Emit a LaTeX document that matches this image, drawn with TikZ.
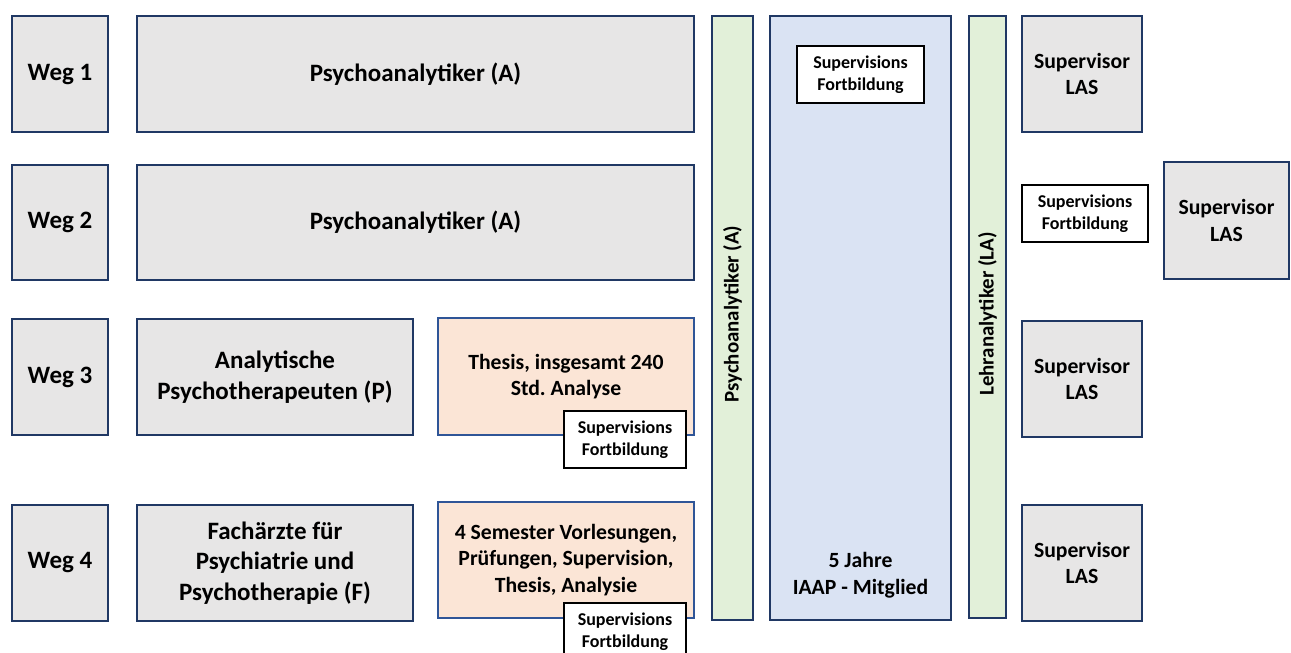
\documentclass[tikz,border=0pt]{standalone}
\usepackage{fontspec}
\setmainfont{Carlito}
\definecolor{greyfill}{HTML}{E7E6E6}
\definecolor{peach}{HTML}{FBE5D6}
\definecolor{greenfill}{HTML}{E2F0D9}
\definecolor{bluefill}{HTML}{DAE3F3}
\definecolor{navy}{HTML}{203864}
\definecolor{midblue}{HTML}{2F5597}
\newcommand\fsLarge{\fontsize{25}{30.5}\selectfont\bfseries}
\newcommand\fsMed{\fontsize{21.7}{26.7}\selectfont\bfseries}
\newcommand\fsVert{\fontsize{20.9}{25}\selectfont\bfseries}
\newcommand\fsSmall{\fontsize{18}{22.5}\selectfont\bfseries}
\tikzset{
  base/.style={anchor=north west, inner sep=0pt, align=center, line width=2pt},
  greybox/.style={base, draw=navy, fill=greyfill, font=\fsLarge},
  lasbox/.style={base, draw=navy, fill=greyfill, font=\fsMed},
  peachbox/.style={base, draw=midblue, fill=peach, font=\fsMed},
  greenbar/.style={base, draw=navy, fill=greenfill},
  bluebar/.style={base, draw=navy, fill=bluefill},
  sfbox/.style={base, draw=black, fill=white, line width=2pt, font=\fsSmall},
  plain/.style={inner sep=0pt, align=center},
}
\begin{document}
\frenchspacing
\begin{tikzpicture}[x=1pt, y=-1pt]
\useasboundingbox (0,0) rectangle (1291,653);
% row 1
\node[greybox, minimum width=96pt, minimum height=116pt] (weg1) at (11,15) {Weg 1};
\node[greybox, minimum width=557pt, minimum height=116pt] (pa1) at (136,15) {Psychoanalytiker (A)};
% row 2
\node[greybox, minimum width=96pt, minimum height=115pt] (weg2) at (11,164) {Weg 2};
\node[greybox, minimum width=557pt, minimum height=115pt] (pa2) at (136,164) {Psychoanalytiker (A)};
% row 3
\node[greybox, minimum width=96pt, minimum height=116pt] (weg3) at (11,318) {Weg 3};
\node[greybox, minimum width=276pt, minimum height=116pt] (ap) at (136,318) {Analytische\\Psychotherapeuten (P)};
\node[peachbox, minimum width=256pt, minimum height=117pt] (thesis) at (437,317) {Thesis, insgesamt 240\\Std. Analyse};
\node[sfbox, minimum width=122pt, minimum height=57pt] (sf3) at (563,410) {Supervisions\\Fortbildung};
% row 4
\node[greybox, minimum width=96pt, minimum height=116pt] (weg4) at (11,504) {Weg 4};
\node[greybox, minimum width=276pt, minimum height=116pt] (fa) at (136,504) {Fachärzte für\\Psychiatrie und\\Psychotherapie (F)};
\node[peachbox, minimum width=256pt, minimum height=116pt] (sem) at (437,501) {4 Semester Vorlesungen,\\Prüfungen, Supervision,\\Thesis, Analysie};
\node[sfbox, minimum width=122pt, minimum height=57pt] (sf4) at (563,602) {Supervisions\\Fortbildung};
% vertical bars
\node[greenbar, minimum width=41pt, minimum height=604pt] (gL) at (711,15) {};
\node[plain, rotate=90, font=\fsVert] (gLt) at ([yshift=4pt]gL.center) {Psychoanalytiker (A)};
\node[bluebar, minimum width=181pt, minimum height=604pt] (blue) at (769,15) {};
\node[sfbox, minimum width=127pt, minimum height=57pt] (sfb) at (796,45) {Supervisions\\Fortbildung};
\node[plain, anchor=south, font=\fsMed] (jahre) at ([yshift=23pt]blue.south) {5 Jahre\\IAAP - Mitglied};
\node[greenbar, minimum width=37pt, minimum height=602pt] (gR) at (968,15) {};
\node[plain, rotate=90, font=\fsVert] (gRt) at ([yshift=3pt]gR.center) {Lehranalytiker (LA)};
% right column
\node[lasbox, minimum width=120pt, minimum height=116pt] (las1) at (1021,15) {Supervisor\\LAS};
\node[sfbox, minimum width=126pt, minimum height=57pt] (sfR) at (1021,184) {Supervisions\\Fortbildung};
\node[lasbox, minimum width=125pt, minimum height=117pt] (lasR) at (1163,161) {Supervisor\\LAS};
\node[lasbox, minimum width=120pt, minimum height=116pt] (las3) at (1021,320) {Supervisor\\LAS};
\node[lasbox, minimum width=120pt, minimum height=116pt] (las4) at (1021,504) {Supervisor\\LAS};
\end{tikzpicture}
\end{document}
